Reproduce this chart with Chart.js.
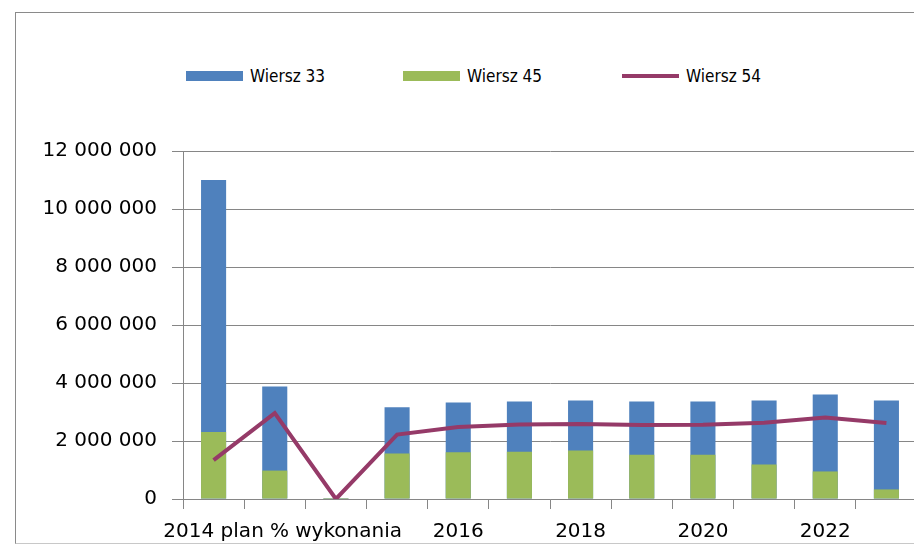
<!DOCTYPE html>
<html>
<head>
<meta charset="utf-8">
<script src="https://cdn.jsdelivr.net/npm/chart.js@4/dist/chart.umd.min.js"></script>
<style>
  html, body { margin: 0; padding: 0; background: #fff; overflow: hidden; }
  body { width: 914px; height: 545px; position: relative; }
  #frame {
    position: absolute; left: 15px; top: 12px; width: 920px; height: 530px;
    border-top: 1px solid #8a8a8a; border-left: 1px solid #8a8a8a; border-bottom: 1px solid #c8c8c8;
  }
  #box { position: absolute; left: 15px; top: 12px; width: 902px; height: 531px; }
  #legend { position: absolute; left: 0; top: 0; font-family: 'Liberation Sans Narrow', 'DejaVu Sans Condensed', 'Liberation Sans', sans-serif; font-size: 17px; color: #000; }
  .item { position: absolute; top: 66px; height: 20px; display: flex; align-items: center; white-space: nowrap; }
  .swatch { width: 57px; margin-right: 7px; }
</style>
</head>
<body>
<div id="frame"></div>
<div id="legend"></div>
<div id="box"><canvas id="chart"></canvas></div>
<script>
const categories = ['2014 plan', '2014 wykonanie', '% wykonania', '2015', '2016', '2017', '2018', '2019', '2020', '2021', '2022', '2023'];
const seriesNames = ['Wiersz 33', 'Wiersz 45', 'Wiersz 54'];
const wiersz33 = [11000000, 3880000, 98, 3160000, 3330000, 3360000, 3400000, 3360000, 3360000, 3400000, 3600000, 3400000];
const wiersz45 = [2310000, 980000, 95, 1570000, 1610000, 1630000, 1670000, 1530000, 1530000, 1190000, 950000, 330000];
const wiersz54 = [1340000, 2960000, 0, 2220000, 2480000, 2570000, 2590000, 2550000, 2560000, 2630000, 2810000, 2620000];
const yTicks = [0, 2000000, 4000000, 6000000, 8000000, 10000000, 12000000];

const colors = ['#4f81bd', '#9bbb59', '#953a68'];
const axisFont = { family: 'DejaVu Sans', size: 20 };

// legend drawn as html, placed like the original
const legendX = [186, 403, 622];
const legend = document.getElementById('legend');
seriesNames.forEach((name, i) => {
  const item = document.createElement('div');
  item.className = 'item';
  item.style.left = legendX[i] + 'px';
  const sw = document.createElement('div');
  sw.className = 'swatch';
  sw.style.background = colors[i];
  sw.style.height = i === 2 ? '4px' : '10px';
  item.appendChild(sw);
  const t = document.createElement('span');
  t.textContent = name;
  item.appendChild(t);
  legend.appendChild(item);
});

function fmt(v) {
  return String(v).replace(/\B(?=(\d{3})+(?!\d))/g, ' ');
}

new Chart(document.getElementById('chart'), {
  data: {
    labels: categories,
    datasets: [
      { type: 'bar', label: seriesNames[0], data: wiersz33, backgroundColor: colors[0], order: 2,
        barPercentage: 0.41, categoryPercentage: 1 },
      { type: 'bar', label: seriesNames[1], data: wiersz45, backgroundColor: colors[1], order: 1,
        barPercentage: 0.41, categoryPercentage: 1 },
      { type: 'line', label: seriesNames[2], data: wiersz54, borderColor: colors[2], borderWidth: 4,
        pointRadius: 0, tension: 0, fill: false, order: 0 }
    ]
  },
  options: {
    responsive: true,
    maintainAspectRatio: false,
    animation: false,
    layout: { padding: { top: 139, right: 0, bottom: 0, left: 0 } },
    plugins: { legend: { display: false }, tooltip: { enabled: false } },
    scales: {
      x: {
        stacked: true,
        offset: true,
        grid: { offset: true, drawOnChartArea: false, color: '#868686', tickLength: 10 },
        border: { color: '#868686' },
        ticks: {
          autoSkip: false, maxRotation: 0, padding: 11, color: '#000', font: axisFont,
          callback: (v, i) => (i % 2 === 0 ? categories[i] : '')
        },
        afterFit: (scale) => { scale.height = 44; }
      },
      y: {
        stacked: false,
        min: 0,
        max: 12000000,
        afterBuildTicks: (scale) => { scale.ticks = yTicks.map(v => ({ value: v })); },
        grid: { color: '#868686', tickLength: 11 },
        border: { color: '#868686' },
        ticks: { padding: 15, color: '#000', font: axisFont, callback: (v) => fmt(v) },
        afterFit: (scale) => { scale.width = 168; }
      }
    }
  }
});
</script>
</body>
</html>
